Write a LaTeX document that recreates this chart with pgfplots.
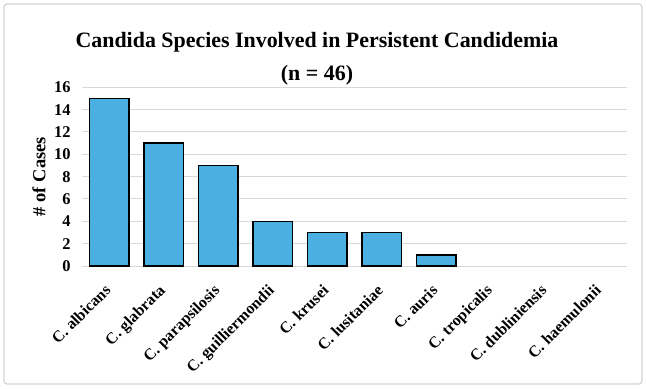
\documentclass[border=0pt]{standalone}
\usepackage{fontspec}
\setmainfont{Liberation Serif}
\usepackage{pgfplots}
\pgfplotsset{compat=1.18}
\definecolor{barblue}{RGB}{76,175,226}
\definecolor{gridgray}{RGB}{217,217,217}
\definecolor{framegray}{RGB}{210,210,210}
\begin{document}
\begin{tikzpicture}[x=1bp,y=1bp]
\path[use as bounding box] (0,0) rectangle (646,388);
\draw[framegray, line width=1.2bp, rounded corners=3bp] (4,4) rectangle (642,384);
\node[font=\bfseries\fontsize{22}{33}\selectfont, align=center] at (317,329) {Candida Species Involved in Persistent Candidemia\\(n = 46)};
\begin{axis}[
  at={(82bp,122bp)}, anchor=south west,
  scale only axis, width=545bp, height=178.7bp,
  xmin=-0.5, xmax=9.5, ymin=0, ymax=16,
  ytick={0,2,...,16},
  xtick={0,...,9},
  xticklabels={C. albicans, C. glabrata, C. parapsilosis, C. guilliermondii, C. krusei, C. lusitaniae, C. auris, C. tropicalis, C. dubliniensis, C. haemulonii},
  axis line style={draw=none},
  major tick length=0,
  ymajorgrids, grid style={gridgray, line width=1bp},
  /pgf/number format/assume math mode=true,
  yticklabel style={font=\bfseries\fontsize{16.5}{18}\selectfont, xshift=-8bp},
  xticklabel style={font=\bfseries\fontsize{16}{18}\selectfont, rotate=45, anchor=north east, xshift=-13bp, yshift=-5bp},
  ylabel={\# of Cases},
  ylabel style={font=\bfseries\fontsize{18.5}{20}\selectfont, at={(axis description cs:-0.079,0.5)}, anchor=center},
  ybar, bar width=0.72,
  unbounded coords=discard,
  y filter/.expression={y==0 ? nan : y},
]
\addplot[fill=barblue, draw=black, line width=1.4bp] coordinates {
  (0,15) (1,11) (2,9) (3,4) (4,3) (5,3) (6,1) (7,0) (8,0) (9,0)
};
\end{axis}
\end{tikzpicture}
\end{document}
